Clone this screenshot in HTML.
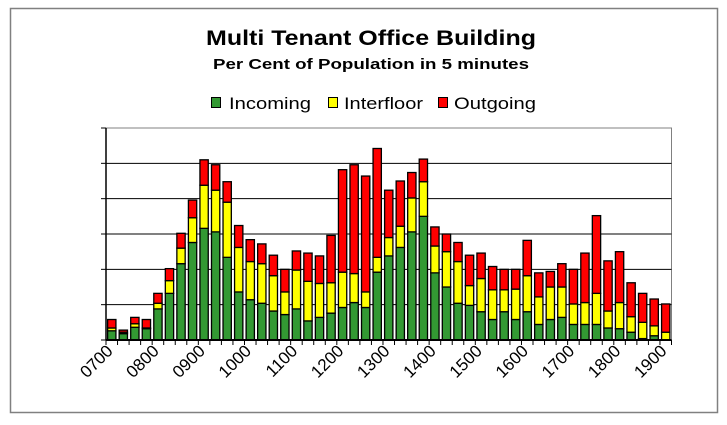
<!DOCTYPE html>
<html><head><meta charset="utf-8">
<style>
body{margin:0;background:#fff;}
svg{display:block;font-family:"Liberation Sans",Arial,sans-serif;}
</style></head>
<body>
<svg id="chart" width="727" height="425" viewBox="0 0 727 425" xmlns="http://www.w3.org/2000/svg">
<rect x="10.5" y="8.5" width="707" height="404" fill="#fff" stroke="#808080" stroke-width="1.5"/>
<text x="371" y="45" font-size="21" font-weight="bold" text-anchor="middle" textLength="330" lengthAdjust="spacingAndGlyphs">Multi Tenant Office Building</text>
<text x="371" y="69" font-size="15" font-weight="bold" text-anchor="middle" textLength="316" lengthAdjust="spacingAndGlyphs">Per Cent of Population in 5 minutes</text>
<g>
<g><rect x="211.5" y="97.5" width="9" height="10" fill="#339933" stroke="#000"/><text x="229" y="109" font-size="17" textLength="82" lengthAdjust="spacingAndGlyphs">Incoming</text></g>
<g><rect x="328.5" y="97.5" width="9" height="10" fill="#ffff00" stroke="#000"/><text x="344" y="109" font-size="17" textLength="79" lengthAdjust="spacingAndGlyphs">Interfloor</text></g>
<g><rect x="438.5" y="97.5" width="9" height="10" fill="#ff0000" stroke="#000"/><text x="454" y="109" font-size="17" textLength="82" lengthAdjust="spacingAndGlyphs">Outgoing</text></g>
</g>
<rect x="106" y="128" width="565.5" height="212" fill="#fff" stroke="#808080" stroke-width="1"/>
<g id="grid"></g>
<g id="bars"></g>
<g id="axes"></g>
</svg>
<script>
const categories=["0700","0715","0730","0745","0800","0815","0830","0845","0900","0915","0930","0945","1000","1015","1030","1045","1100","1115","1130","1145","1200","1215","1230","1245","1300","1315","1330","1345","1400","1415","1430","1445","1500","1515","1530","1545","1600","1615","1630","1645","1700","1715","1730","1745","1800","1815","1830","1845","1900"];
const incoming=[1.3,0.9,1.8,1.6,4.4,6.6,10.8,13.8,15.8,15.3,11.7,6.8,5.7,5.2,4.1,3.6,4.4,2.7,3.2,3.8,4.6,5.3,4.6,9.6,11.9,13.1,15.3,17.5,9.5,7.5,5.2,4.9,4.0,2.9,4.0,2.9,4.0,2.2,2.9,3.2,2.2,2.2,2.2,1.7,1.6,1.1,0.2,0.6,0.0];
const interfloor=[0.4,0.2,0.5,0.1,0.8,1.8,2.2,3.5,6.1,5.9,7.8,6.3,5.4,5.6,5.0,3.2,5.5,5.6,4.8,4.3,5.0,4.1,2.2,2.1,2.6,3.0,4.8,4.9,3.8,5.0,5.9,2.8,4.7,4.2,3.1,4.3,5.1,3.9,4.6,4.3,2.9,3.1,4.4,2.4,3.7,2.2,2.3,1.4,1.1];
const outgoing=[1.2,0.3,0.9,1.2,1.4,1.7,2.1,2.5,3.6,3.6,2.9,3.1,3.1,2.8,2.9,3.2,2.7,4.0,3.9,6.7,14.5,15.4,16.4,15.4,6.7,6.4,3.6,3.2,2.7,2.5,2.7,4.3,3.6,3.3,2.9,2.8,5.0,3.4,2.2,3.3,4.9,7.0,11.0,7.1,7.2,4.8,4.1,3.8,4.0];
const yTicks=[0,5,10,15,20,25,30];
const labelEvery=4;

const NS="http://www.w3.org/2000/svg";
const X0=106,X1=671.5,Y0=340,Y1=128,YMAX=30;
const band=(X1-X0)/categories.length;
const bw=band*0.72;
function xC(i){return X0+band*(i+0.5);}
function yS(v){return Y0-(v/YMAX)*(Y0-Y1);}
function mk(tag,attrs,parent){const e=document.createElementNS(NS,tag);for(const k in attrs)e.setAttribute(k,attrs[k]);parent.appendChild(e);return e;}
const grid=document.getElementById('grid'),bars=document.getElementById('bars'),axes=document.getElementById('axes');
yTicks.forEach(t=>{
  if(t>0&&t<YMAX){const l=mk('line',{x1:X0,x2:X1,y1:yS(t),y2:yS(t),stroke:'#000','stroke-width':1},grid);
  
  }
  const tk=mk('line',{x1:X0-5,x2:X0,y1:yS(t),y2:yS(t),stroke:'#000','stroke-width':1},axes);
  
  
});
const series=[[incoming,'#339933','incoming'],[interfloor,'#ffff00','interfloor'],[outgoing,'#ff0000','outgoing']];
categories.forEach((c,i)=>{
  let base=0;
  series.forEach(([arr,col,nm])=>{
    const v=arr[i];
    const r=mk('rect',{x:xC(i)-bw/2,y:yS(base+v),width:bw,height:Math.max(0,yS(base)-yS(base+v)),fill:col,stroke:'#000','stroke-width':1.3},bars);
    
    
    base+=v;
  });
});
const ax=mk('line',{x1:X0,x2:X1,y1:Y0,y2:Y0,stroke:'#000','stroke-width':2},axes);


const ay=mk('line',{x1:X0,x2:X0,y1:Y1,y2:Y0,stroke:'#000','stroke-width':1.5},axes);


for(let i=0;i<=categories.length;i++){
  const x=X0+band*i;
  const t=mk('line',{x1:x,x2:x,y1:Y0,y2:Y0+5,stroke:'#000','stroke-width':1},axes);
  
  
}
categories.forEach((c,i)=>{
  if(i%labelEvery!==0)return;
  const x=xC(i)+2,y=352;
  const t=mk('text',{x:x,y:y,'font-size':17,'text-anchor':'end',transform:'rotate(-45 '+x+' '+y+')'},axes);
  t.textContent=c;
  
  
});
</script>
</body></html>
